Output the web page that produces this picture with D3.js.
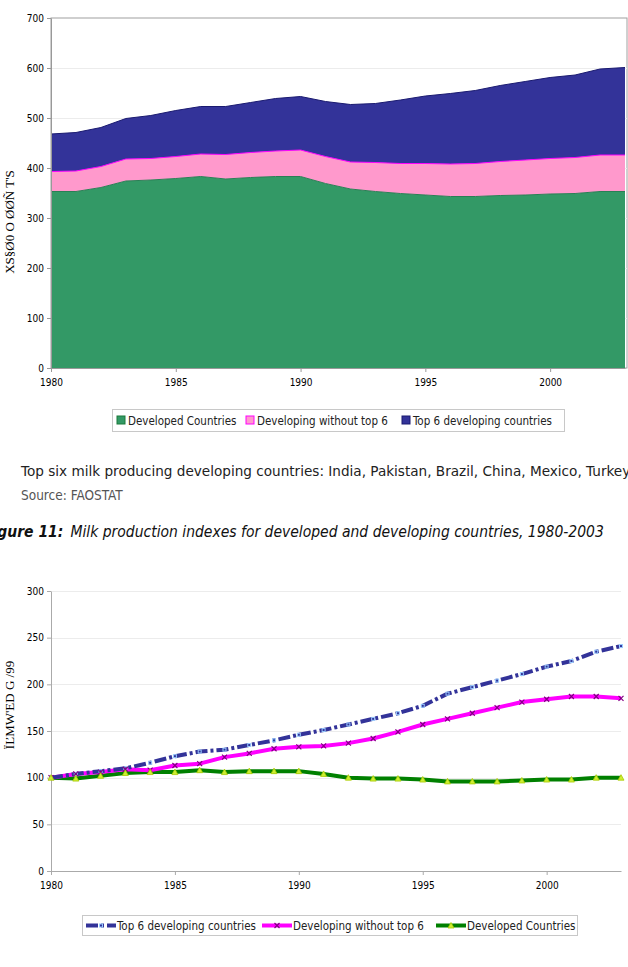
<!DOCTYPE html>
<html><head><meta charset="utf-8">
<script src="https://cdn.jsdelivr.net/npm/d3@7"></script>
<style>body{margin:0;background:#fff;}svg{display:block;font-family:"DejaVu Sans Condensed","DejaVu Sans",sans-serif;}</style>
</head><body>
<svg id="c" width="628" height="967"></svg>
<script>
const years = d3.range(1980, 2004);
const areaTicks = [1980, 1985, 1990, 1995, 2000];
// Figure: milk production, million tonnes (stacked)
const developed = [353,353,361,374,376,379,383,378,381,383,383,369,358,353,349,346,343,343,345,346,348,349,353,353];
const devWithoutTop6 = [40,41,42,44,43,44,45,49,50,51,53,54,54,58,60,63,65,66,68,70,71,72,73,73];
const top6 = [75,77,78,81,86,92,95,96,100,105,107,110,115,118,127,135,141,146,152,157,162,165,172,175];
// Index series (1980=100)
const idxTop6 = [100,104,107,110,116,123,128,130,135,140,146,151,157,163,169,177,190,197,204,211,219,225,235,241];
const idxDevWithout = [100,104,106,109,108,113,115,122,126,131,133,134,137,142,149,157,163,169,175,181,184,187,187,185];
const idxDeveloped = [100,99,102,105,106,106,108,106,107,107,107,104,100,99,99,98,96,96,96,97,98,98,100,100];
const topYTicks = [0,100,200,300,400,500,600,700];
const botYTicks = [0,50,100,150,200,250,300];

const svg = d3.select("#c");

// ---------- Top stacked area chart ----------
const x1 = d3.scaleLinear().domain([1980, 2003]).range([51, 625]);
const y1 = d3.scaleLinear().domain([0, 700]).range([368, 18]);
const g1 = svg.append("g");
g1.append("rect").attr("x",51).attr("y",18).attr("width",576).attr("height",350).attr("fill","#fff").attr("stroke","#a0a0a0").attr("stroke-width",1);
g1.selectAll("line.grid").data(topYTicks.slice(1,-1)).join("line")
  .attr("x1",51).attr("x2",627).attr("y1",d=>y1(d)+0.5).attr("y2",d=>y1(d)+0.5).attr("stroke","#ececec");
const rows = years.map((yr,i)=>({yr, a:developed[i], b:devWithoutTop6[i], c:top6[i]}));
const stack = d3.stack().keys(["a","b","c"])(rows);
const fills = ["#339966","#FF99CC","#333399"];
const strokes = ["#2a7f55","#FF00FF","#1a1a70"];
const area = d3.area().x(d=>x1(d.data.yr)).y0(d=>y1(d[0])).y1(d=>y1(d[1]));
const line = d3.line().x(d=>x1(d.data.yr)).y(d=>y1(d[1]));
stack.forEach((s,k)=>{
  g1.append("path").datum(s).attr("d",area).attr("fill",fills[k]);
});
stack.forEach((s,k)=>{
  g1.append("path").datum(s).attr("d",line).attr("fill","none").attr("stroke",strokes[k]).attr("stroke-width",1);
});
const ax1 = g1.append("g").attr("transform","translate(51,0)").call(d3.axisLeft(y1).tickValues(topYTicks).tickSize(4).tickSizeOuter(0));
ax1.select(".domain").attr("stroke","#999");
ax1.selectAll(".tick line").attr("stroke","#999");
ax1.selectAll("text").attr("font-size",10).attr("fill","#000").attr("font-family","DejaVu Sans Condensed");
const bx1 = g1.append("g").attr("transform","translate(0,368)").call(d3.axisBottom(x1).tickValues(areaTicks).tickFormat(d3.format("d")).tickSize(4).tickSizeOuter(0));
bx1.select(".domain").attr("stroke","#999");
bx1.selectAll(".tick line").attr("stroke","#999");
bx1.selectAll("text").attr("font-size",10).attr("fill","#000").attr("dy","1.1em").attr("font-family","DejaVu Sans Condensed");
svg.append("text").attr("transform","translate(14,222) rotate(-90)").attr("text-anchor","middle")
  .attr("font-size",13).attr("font-family","Liberation Serif").text("XS§Ø0 O ØØÑ T'S");

// top legend
const leg1 = svg.append("g");
leg1.append("rect").attr("x",112.5).attr("y",409.5).attr("width",452).attr("height",22).attr("fill","#fff").attr("stroke","#c8c8c8");
const l1items = [["Developed Countries",fills[0],"#1a7a3a",117],["Developing without top 6",fills[1],"#FF00FF",246],["Top 6 developing countries",fills[2],"#1a1a70",402]];
l1items.forEach(([t,f,s,x])=>{
  leg1.append("rect").attr("x",x).attr("y",416).attr("width",8).attr("height",8).attr("fill",f).attr("stroke",s);
  leg1.append("text").attr("x",x+11).attr("y",424.5).attr("font-size",11.5).attr("fill","#222").text(t);
});

// ---------- Text between charts ----------
svg.append("text").attr("x",21).attr("y",476).attr("font-size",13.6).attr("font-family","DejaVu Sans").attr("fill","#222")
  .text("Top six milk producing developing countries: India, Pakistan, Brazil, China, Mexico, Turkey");
svg.append("text").attr("x",21).attr("y",500).attr("font-size",13.5).attr("font-family","DejaVu Sans Condensed").attr("fill","#555").text("Source: FAOSTAT");
const cap = svg.append("text").attr("x",-17).attr("y",537).attr("font-size",15.5).attr("fill","#111").attr("font-style","italic");
cap.append("tspan").attr("font-weight","bold").text("Figure 11:");
cap.append("tspan").attr("dx",7).text("Milk production indexes for developed and developing countries, 1980-2003");

// ---------- Bottom index line chart ----------
const x2 = d3.scaleLinear().domain([1980, 2003]).range([51, 621]);
const y2 = d3.scaleLinear().domain([0, 300]).range([871, 591]);
const g2 = svg.append("g");
g2.selectAll("line.grid").data(botYTicks.slice(1)).join("line")
  .attr("x1",51).attr("x2",621).attr("y1",d=>Math.round(y2(d))+0.5).attr("y2",d=>Math.round(y2(d))+0.5).attr("stroke","#ececec");
const ax2 = g2.append("g").attr("transform","translate(51,0)").call(d3.axisLeft(y2).tickValues(botYTicks).tickSize(4).tickSizeOuter(0));
ax2.select(".domain").attr("stroke","#aaa");
ax2.selectAll(".tick line").attr("stroke","#aaa");
ax2.selectAll("text").attr("font-size",10).attr("fill","#000").attr("font-family","DejaVu Sans Condensed");
const bx2 = g2.append("g").attr("transform","translate(0,871)").call(d3.axisBottom(x2).tickValues(areaTicks).tickFormat(d3.format("d")).tickSize(4).tickSizeOuter(0));
bx2.select(".domain").attr("stroke","#aaa");
bx2.selectAll(".tick line").attr("stroke","#aaa");
bx2.selectAll("text").attr("font-size",10).attr("fill","#000").attr("dy","1.1em").attr("font-family","DejaVu Sans Condensed");
svg.append("text").attr("transform","translate(14,705) rotate(-90)").attr("text-anchor","middle")
  .attr("font-size",13).attr("font-family","Liberation Serif").text("ÏĽMW'ED G /99");

const ln = d3.line().x((d,i)=>x2(years[i])).y(d=>y2(d));
g2.append("path").datum(idxDeveloped).attr("d",ln).attr("fill","none").attr("stroke","#008000").attr("stroke-width",4).attr("stroke-linejoin","round");
g2.append("path").datum(idxDevWithout).attr("d",ln).attr("fill","none").attr("stroke","#FF00FF").attr("stroke-width",4).attr("stroke-linejoin","round");
g2.append("path").datum(idxTop6).attr("d",ln).attr("fill","none").attr("stroke","#333399").attr("stroke-width",4).attr("stroke-dasharray","12,3,3,3");

function tri(g,cx,cy){ g.append("path").attr("d",`M${cx},${cy-3}L${cx+3},${cy+2.5}L${cx-3},${cy+2.5}Z`).attr("fill","#ccee33").attr("stroke","#aacc00").attr("stroke-width",0.8); }
function xm(g,cx,cy){ g.append("path").attr("d",`M${cx-2.5},${cy-2.5}L${cx+2.5},${cy+2.5}M${cx-2.5},${cy+2.5}L${cx+2.5},${cy-2.5}`).attr("stroke","#800080").attr("stroke-width",1.2); }
function sq(g,cx,cy){ g.append("rect").attr("x",cx-1.5).attr("y",cy-1.5).attr("width",3).attr("height",3).attr("fill","#333399").attr("stroke","#99ccff").attr("stroke-width",1); }
idxTop6.forEach((v,i)=>sq(g2,x2(years[i]),y2(v)));
idxDevWithout.forEach((v,i)=>xm(g2,x2(years[i]),y2(v)));
idxDeveloped.forEach((v,i)=>tri(g2,x2(years[i]),y2(v)));

// bottom legend
const leg2 = svg.append("g");
leg2.append("rect").attr("x",82.5).attr("y",915.5).attr("width",495).attr("height",20).attr("fill","#fff").attr("stroke","#c8c8c8");
const ly = 925.5;
leg2.append("line").attr("x1",86).attr("x2",116).attr("y1",ly).attr("y2",ly).attr("stroke","#333399").attr("stroke-width",4).attr("stroke-dasharray","12,3,3,3");
sq(leg2,101,ly);
leg2.append("text").attr("x",117).attr("y",ly+4).attr("font-size",11.5).attr("fill","#222").text("Top 6 developing countries");
leg2.append("line").attr("x1",262).attr("x2",292).attr("y1",ly).attr("y2",ly).attr("stroke","#FF00FF").attr("stroke-width",4);
xm(leg2,277,ly);
leg2.append("text").attr("x",293).attr("y",ly+4).attr("font-size",11.5).attr("fill","#222").text("Developing without top 6");
leg2.append("line").attr("x1",436).attr("x2",466).attr("y1",ly).attr("y2",ly).attr("stroke","#008000").attr("stroke-width",4);
tri(leg2,451,ly);
leg2.append("text").attr("x",467).attr("y",ly+4).attr("font-size",11.5).attr("fill","#222").text("Developed Countries");
</script>
</body></html>
